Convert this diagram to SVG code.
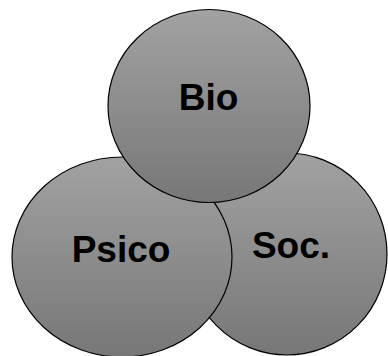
<svg xmlns="http://www.w3.org/2000/svg" width="388" height="356" viewBox="0 0 388 356">
<defs>
<linearGradient id="g" x1="0" y1="0" x2="0" y2="1">
<stop offset="0" stop-color="#a2a2a2"/>
<stop offset="1" stop-color="#777777"/>
</linearGradient>
</defs>
<style>
.c{fill:url(#g);stroke:#000;stroke-width:1.2}
.t{font-family:"Liberation Sans",Arial,sans-serif;font-weight:bold;font-size:37px;fill:#000;text-anchor:middle}
</style>
<g id="soc">
<ellipse class="c" cx="287" cy="254" rx="100" ry="101"/>
<text class="t" x="291" y="258">Soc.</text>
</g>
<g id="psico">
<ellipse class="c" cx="122" cy="257" rx="110" ry="100"/>
<text class="t" x="121" y="261.5">Psico</text>
</g>
<g id="bio">
<ellipse class="c" cx="209" cy="106" rx="101" ry="96.5"/>
<text class="t" x="208.5" y="110">Bio</text>
</g>
<g id="connectors"/>
</svg>
